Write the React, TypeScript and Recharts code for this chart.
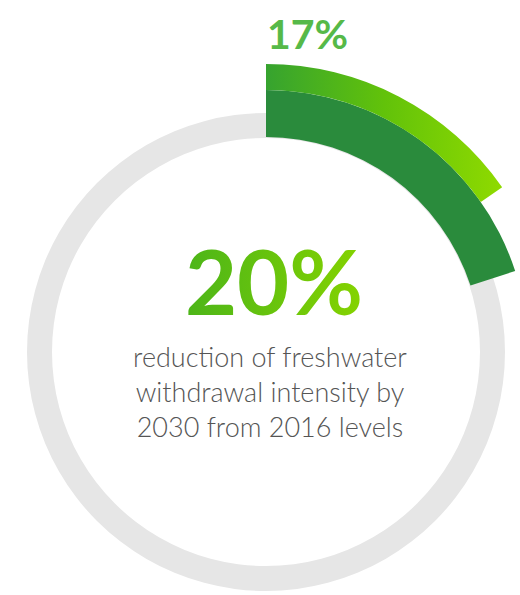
import React from 'react';
import { PieChart, Pie, Cell } from 'recharts';

// the grey track is the full year, arcs are percent reduction
const track = [{ name: 'track', value: 100 }];
const target = [
  { name: 'Target 2030', value: 20 },
  { name: 'rest', value: 80 },
];
// outer arc as drawn in the graphic (ends ~55deg)
const progress = [
  { name: 'Achieved', value: 15.3 },
  { name: 'rest', value: 84.7 },
];
const progressLabel = '17%';
const targetLabel = '20%';
const captionLines = ['reduction of freshwater', 'withdrawal intensity by', '2030 from 2016 levels'];

const FONT = 'Lato, "Open Sans", sans-serif';
const CX = 266;
const CY = 352;

const CenterText = () => (
  <g>
    <text x={CX + 1} y={CY - 303} fill="#56b948" fontFamily={FONT} fontWeight={700} fontSize={41}>
      {progressLabel}
    </text>
    <text
      x={CX + 8}
      y={CY - 37}
      textAnchor="middle"
      fill="url(#bigGrad)"
      fontFamily={FONT}
      fontWeight={700}
      fontSize={90}
    >
      {targetLabel}
    </text>
    {captionLines.map((line, i) => (
      <text
        key={line}
        x={CX + 4}
        y={CY + 15 + i * 35}
        textAnchor="middle"
        fill="#555555"
        fontFamily={FONT}
        fontWeight={300}
        fontSize={27}
      >
        {line}
      </text>
    ))}
  </g>
);

export default function App() {
  return (
    <div style={{ position: 'absolute', left: 0, top: 0, width: 520, height: 595, background: '#fff' }}>
      <PieChart width={520} height={595} margin={{ top: 0, right: 0, bottom: 0, left: 0 }}>
        <defs>
          <linearGradient id="arcGrad" x1="0" y1="0" x2="1" y2="0">
            <stop offset="0%" stopColor="#36a32f" />
            <stop offset="50%" stopColor="#62c20a" />
            <stop offset="100%" stopColor="#8fda00" />
          </linearGradient>
          <linearGradient id="bigGrad" x1="0" y1="0" x2="1" y2="0">
            <stop offset="0%" stopColor="#4cb519" />
            <stop offset="100%" stopColor="#85d300" />
          </linearGradient>
        </defs>
        <Pie
          data={track}
          dataKey="value"
          cx={CX}
          cy={CY}
          innerRadius={214}
          outerRadius={239}
          startAngle={90}
          endAngle={-270}
          stroke="none"
          isAnimationActive={false}
        >
          <Cell fill="#e6e6e6" />
        </Pie>
        <Pie
          data={target}
          dataKey="value"
          cx={CX}
          cy={CY}
          innerRadius={215}
          outerRadius={262}
          startAngle={90}
          endAngle={-270}
          stroke="none"
          isAnimationActive={false}
        >
          <Cell fill="#2a8b3c" />
          <Cell fill="transparent" />
        </Pie>
        <Pie
          data={progress}
          dataKey="value"
          cx={CX}
          cy={CY}
          innerRadius={262}
          outerRadius={288}
          startAngle={90}
          endAngle={-270}
          stroke="none"
          isAnimationActive={false}
        >
          <Cell fill="url(#arcGrad)" />
          <Cell fill="transparent" />
        </Pie>
        <CenterText />
      </PieChart>
    </div>
  );
}
